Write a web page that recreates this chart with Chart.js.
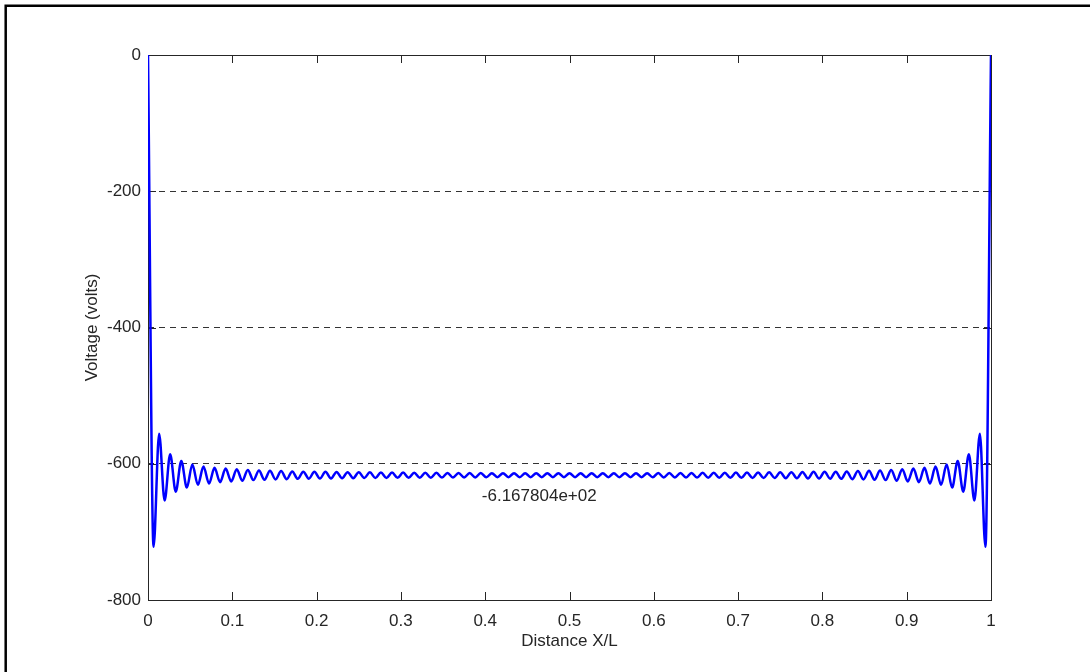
<!DOCTYPE html>
<html>
<head>
<meta charset="utf-8">
<script src="https://cdn.jsdelivr.net/npm/chart.js@4"></script>
<style>
  html, body { margin: 0; padding: 0; background: #fff; }
  #wrap { width: 1090px; height: 672px; }
</style>
</head>
<body>
<div id="wrap"><canvas id="voltChart" width="1090" height="672"></canvas></div>
<script>
// distance X/L of the curve's turning points
const xPos = [
  0,
  0.0066, 0.0132, 0.0197, 0.0263, 0.0329, 0.0395, 0.0461, 0.0526, 0.0592, 0.0658,
  0.0724, 0.0789, 0.0855, 0.0921, 0.0987, 0.1053, 0.1118, 0.1184, 0.125, 0.1316,
  0.1382, 0.1447, 0.1513, 0.1579, 0.1645, 0.1711, 0.1776, 0.1842, 0.1908, 0.1974,
  0.2039, 0.2105, 0.2171, 0.2237, 0.2303, 0.2368, 0.2434, 0.25, 0.2566, 0.2632,
  0.2697, 0.2763, 0.2829, 0.2895, 0.2961, 0.3026, 0.3092, 0.3158, 0.3224, 0.3289,
  0.3355, 0.3421, 0.3487, 0.3553, 0.3618, 0.3684, 0.375, 0.3816, 0.3882, 0.3947,
  0.4013, 0.4079, 0.4145, 0.4211, 0.4276, 0.4342, 0.4408, 0.4474, 0.4539, 0.4605,
  0.4671, 0.4737, 0.4803, 0.4868, 0.4934, 0.5,
  0.5066, 0.5132, 0.5197, 0.5263, 0.5329, 0.5395, 0.5461, 0.5526, 0.5592, 0.5658,
  0.5724, 0.5789, 0.5855, 0.5921, 0.5987, 0.6053, 0.6118, 0.6184, 0.625, 0.6316,
  0.6382, 0.6447, 0.6513, 0.6579, 0.6645, 0.6711, 0.6776, 0.6842, 0.6908, 0.6974,
  0.7039, 0.7105, 0.7171, 0.7237, 0.7303, 0.7368, 0.7434, 0.75, 0.7566, 0.7632,
  0.7697, 0.7763, 0.7829, 0.7895, 0.7961, 0.8026, 0.8092, 0.8158, 0.8224, 0.8289,
  0.8355, 0.8421, 0.8487, 0.8553, 0.8618, 0.8684, 0.875, 0.8816, 0.8882, 0.8947,
  0.9013, 0.9079, 0.9145, 0.9211, 0.9276, 0.9342, 0.9408, 0.9474, 0.9539, 0.9605,
  0.9671, 0.9737, 0.9803, 0.9868, 0.9934,
  1
];

// voltage at those points
const voltage = [
  0,
  -722, -556, -654, -586, -641, -596, -635, -601, -631, -604,
  -629, -606, -627, -607, -626, -608, -625, -609, -624, -610,
  -623.5, -610.4, -623, -610.8, -622.6, -611.2, -622.2, -611.6, -621.9, -611.8,
  -621.8, -611.9, -621.6, -612.1, -621.4, -612.3, -621.2, -612.5, -621.0, -612.6,
  -620.9, -612.8, -620.8, -612.9, -620.7, -613.0, -620.6, -613.1, -620.5, -613.2,
  -620.4, -613.3, -620.3, -613.4, -620.2, -613.5, -620.1, -613.6, -620.0, -613.7,
  -619.9, -613.8, -619.8, -613.8, -619.8, -613.8, -619.8, -613.9, -619.7, -613.9,
  -619.7, -613.9, -619.7, -613.9, -619.7, -613.9,
  -619.7, -613.9, -619.7, -613.9, -619.7, -613.9, -619.7, -613.9, -619.8, -613.8,
  -619.8, -613.8, -619.8, -613.8, -619.9, -613.7, -620.0, -613.6, -620.1, -613.5,
  -620.2, -613.4, -620.3, -613.3, -620.4, -613.2, -620.5, -613.1, -620.6, -613.0,
  -620.7, -612.9, -620.8, -612.8, -620.9, -612.6, -621.0, -612.5, -621.2, -612.3,
  -621.4, -612.1, -621.6, -611.9, -621.8, -611.8, -621.9, -611.6, -622.2, -611.2,
  -622.6, -610.8, -623, -610.4, -623.5, -610, -624, -609, -625, -608,
  -626, -607, -627, -606, -629, -604, -631, -601, -635, -596,
  -641, -586, -654, -556, -722,
  0
];

const xTicks = [0, 0.1, 0.2, 0.3, 0.4, 0.5, 0.6, 0.7, 0.8, 0.9, 1];
const yTicks = [0, -200, -400, -600, -800];
const noteText = '-6.167804e+02';
const notePos = [0.396, -648];
const xTitle = 'Distance X/L';
const yTitle = 'Voltage (volts)';

const ink = '#262626';
const fontFam = '"Liberation Sans", Arial, Helvetica, sans-serif';

// frame, axes box, inward ticks, titles and the value note
const decor = {
  id: 'decor',
  beforeDatasetsDraw(chart) {
    const { ctx, chartArea: a, scales } = chart;
    ctx.save();
    ctx.strokeStyle = ink;
    ctx.lineWidth = 1;
    ctx.strokeRect(a.left + 0.5, a.top + 0.5, a.right - a.left, a.bottom - a.top);
    ctx.beginPath();
    xTicks.forEach(v => {
      const px = Math.round(scales.x.getPixelForValue(v)) + 0.5;
      ctx.moveTo(px, a.bottom); ctx.lineTo(px, a.bottom - 8);
      ctx.moveTo(px, a.top); ctx.lineTo(px, a.top + 8);
    });
    yTicks.forEach(v => {
      const py = Math.round(scales.y.getPixelForValue(v)) + 0.5;
      ctx.moveTo(a.left, py); ctx.lineTo(a.left + 8, py);
      ctx.moveTo(a.right, py); ctx.lineTo(a.right - 8, py);
    });
    ctx.stroke();
    ctx.restore();
  },
  afterDraw(chart) {
    const { ctx, chartArea: a, scales } = chart;
    ctx.save();
    // outer figure frame
    ctx.strokeStyle = '#000';
    ctx.lineWidth = 2.5;
    ctx.beginPath();
    ctx.moveTo(5.7, 700); ctx.lineTo(5.7, 5.7); ctx.lineTo(1100, 5.7);
    ctx.stroke();

    ctx.fillStyle = ink;
    ctx.font = '17px ' + fontFam;
    ctx.textAlign = 'center';
    ctx.textBaseline = 'middle';
    ctx.fillText(xTitle, (a.left + a.right) / 2, 641);
    ctx.save();
    ctx.translate(92, (a.top + a.bottom) / 2);
    ctx.rotate(-Math.PI / 2);
    ctx.fillText(yTitle, 0, 0);
    ctx.restore();

    ctx.textAlign = 'left';
    ctx.fillText(noteText, scales.x.getPixelForValue(notePos[0]), scales.y.getPixelForValue(notePos[1]));
    ctx.restore();
  }
};

new Chart(document.getElementById('voltChart'), {
  type: 'scatter',
  data: {
    datasets: [{
      data: xPos.map((x, i) => ({ x: x, y: voltage[i] })),
      showLine: true,
      borderColor: '#0000ff',
      borderWidth: 2.5,
      pointRadius: 0,
      cubicInterpolationMode: 'monotone',
      fill: false
    }]
  },
  options: {
    responsive: false,
    animation: false,
    devicePixelRatio: 1,
    layout: { padding: { top: 55, right: 99, left: 0, bottom: 0 } },
    plugins: { legend: { display: false }, tooltip: { enabled: false } },
    scales: {
      x: {
        type: 'linear', min: 0, max: 1,
        afterFit: s => { s.height = 72; },
        afterBuildTicks: s => { s.ticks = xTicks.map(v => ({ value: v })); },
        grid: { display: false, drawTicks: false },
        border: { display: false },
        ticks: {
          color: ink, padding: 11, maxRotation: 0,
          font: { size: 17, family: fontFam },
          callback: v => String(+v.toFixed(1))
        }
      },
      y: {
        type: 'linear', min: -800, max: 0,
        afterFit: s => { s.width = 148; },
        afterBuildTicks: s => { s.ticks = yTicks.map(v => ({ value: v })); },
        grid: {
          drawTicks: false,
          lineWidth: 1,
          color: c => (c.tick && (c.tick.value === 0 || c.tick.value === -800)) ? 'rgba(0,0,0,0)' : '#333'
        },
        border: { display: false, dash: [6, 5] },
        ticks: {
          color: ink, padding: 7,
          font: { size: 17, family: fontFam },
          callback: v => String(v)
        }
      }
    }
  },
  plugins: [decor]
});
</script>
</body>
</html>
